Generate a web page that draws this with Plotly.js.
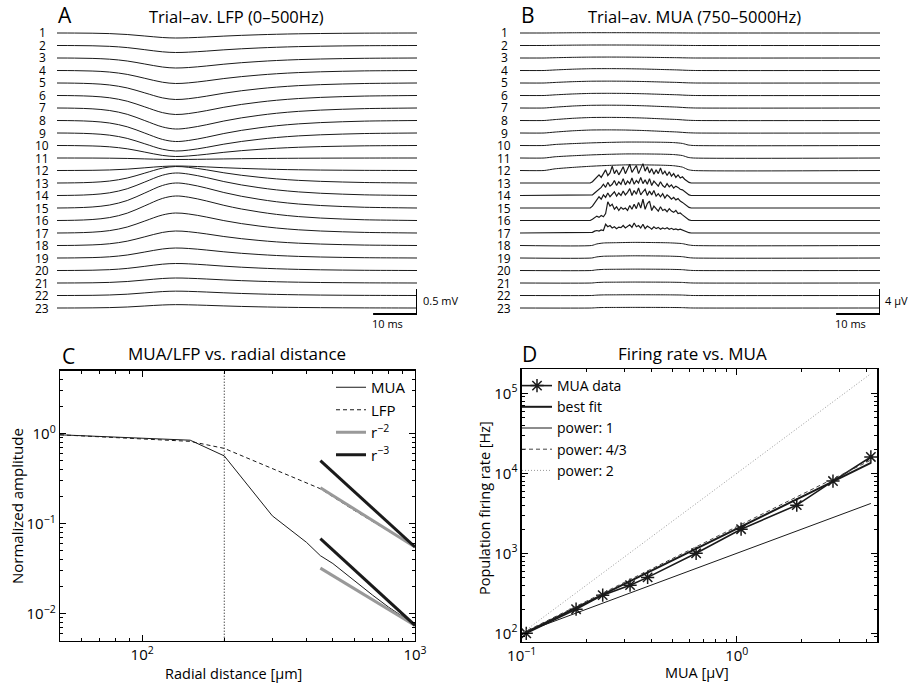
<!DOCTYPE html>
<html><head><meta charset="utf-8">
<script src="https://cdn.plot.ly/plotly-3.0.1.min.js"></script>
<style>html,body{margin:0;padding:0;background:#fff}#chart{width:908px;height:686px}</style>
</head><body><div id="chart"></div>
<script>
// ================= DATA =================
const channels = ['1','2','3','4','5','6','7','8','9','10','11','12','13','14','15','16','17','18','19','20','21','22','23'];

// Panel A: trial-averaged LFP waveform template (time in ms, normalized) and per-channel amplitude (mV)
const lfpT        = [0, 4, 8, 12, 16, 20, 24, 27, 30, 34, 38, 42, 46, 50, 55, 60, 65, 70, 75, 82];
const lfpTemplate = [0, 0.01, 0.04, 0.12, 0.3, 0.6, 0.9, 1.0, 0.95, 0.8, 0.62, 0.47, 0.35, 0.25, 0.16, 0.1, 0.06, 0.03, 0.015, 0];
const lfpAmp = [-0.10, -0.14, -0.20, -0.26, -0.33, -0.38, -0.42, -0.42, -0.36, -0.22, -0.03, 0.09, 0.33, 0.45, 0.50, 0.49, 0.40, 0.29, 0.20, 0.14, 0.10, 0.087, 0.067];

// Panel B: trial-averaged MUA (µV)
const muaEarlyT   = [0, 5.5, 8, 12, 16, 20, 24, 28, 32, 36, 38, 40, 82];
const muaEarly    = [0, 0, 0.3, 0.7, 0.95, 1.0, 0.95, 0.8, 0.55, 0.3, 0.1, 0, 0];
const muaPlateauT = [0, 5.5, 8, 12, 16, 20, 24, 28, 32, 35, 37, 38.3, 39.5, 82];
const muaPlateau  = [0, 0, 0.3, 0.55, 0.75, 0.9, 1.0, 1.0, 0.95, 0.85, 0.6, 0.15, 0, 0];
const muaLateT    = [0, 16.3, 17.5, 19, 22, 26, 30, 34, 37, 38.3, 39.5, 82];
const muaLate     = [0, 0, 0.5, 0.8, 0.9, 1.0, 0.95, 0.85, 0.6, 0.2, 0, 0];
const muaSmoothAmp   = {1:0.05, 2:0.08, 3:0.15, 4:0.3, 5:0.3, 6:0.35, 7:0.45, 8:0.5, 9:0.5, 10:0.55, 11:0.65, 12:0.9, 18:0.5, 19:0.35, 20:0.22, 21:0.15, 22:0.12, 23:0.1};
const muaSmoothShape = {1:'early',2:'early',3:'early',4:'early',5:'early',6:'early',7:'early',8:'early',9:'early',10:'plateau',11:'plateau',12:'plateau',18:'late',19:'late',20:'late',21:'late',22:'late',23:'late'};
// noisy channels, samples every 0.5 ms starting at 16 ms
const muaNoisyStart = 16, muaNoisyStep = 0.5;
const mua13 = [0,0.2,0.6,0.9,1.3,0.9,1.5,2.1,1.2,1.6,2.7,1.5,2.1,1.3,1.9,2.6,1.5,2.2,3.0,1.7,2.3,2.8,1.5,2.4,3.1,1.9,2.6,1.6,2.3,1.4,2.1,1.5,2.4,1.4,1.9,1.2,1.8,1.1,1.5,0.9,1.3,0.8,1.0,0.6,0.35,0.1,0];
const mua14 = [0,0.1,0.4,0.7,1.1,1.3,1.8,1.3,2.1,1.5,1.8,2.4,1.6,2.2,1.8,2.7,1.7,2.3,1.9,2.8,1.8,2.4,2.0,2.9,1.9,2.5,1.8,2.7,1.6,2.3,1.9,1.5,2.2,1.6,1.3,1.9,1.4,1.7,1.2,1.5,1.3,1.0,0.9,0.6,0.3,0.1,0];
const mua15 = [0,0.3,0.8,1.3,1.8,1.4,2.1,1.7,2.4,1.8,2.2,2.6,1.9,2.4,2.0,2.7,2.1,2.5,3.1,2.0,2.8,2.2,3.2,2.1,2.6,3.0,2.0,2.7,2.1,2.8,1.9,2.3,1.8,2.3,1.6,2.1,1.8,1.4,1.7,1.3,1.5,1.1,0.9,0.6,0.3,0.1,0];
const mua16 = [0,0.2,0.5,0.7,0.5,0.8,0.6,1.1,3.0,2.3,2.6,1.8,2.2,1.6,2.1,1.8,2.0,1.6,2.4,1.8,2.6,1.9,2.9,2.0,3.4,1.8,2.7,3.1,1.6,2.3,1.9,1.5,2.2,1.6,1.8,1.4,1.9,1.5,1.3,1.6,1.1,1.2,0.9,0.6,0.3,0.1,0];
const mua17 = [0,0.1,0.3,0.4,0.3,0.5,0.4,1.4,1.0,1.2,0.8,1.0,0.7,0.95,0.85,1.2,0.8,1.0,1.3,0.9,1.6,1.0,1.2,0.8,1.4,0.7,1.1,0.9,0.6,1.0,0.7,0.9,0.6,0.8,0.65,0.85,0.6,0.75,0.55,0.65,0.5,0.6,0.45,0.3,0.15,0.05,0];
const muaNoisy = {13:mua13, 14:mua14, 15:mua15, 16:mua16, 17:mua17};
const traceEndMs = 82;

// Panel C: amplitude vs radial distance
const cMuaX = [50, 150, 200, 300, 400, 450, 500, 600, 700, 800, 900, 1000];
const cMuaY = [0.97, 0.845, 0.565, 0.122, 0.062, 0.044, 0.036, 0.023, 0.016, 0.0118, 0.0093, 0.0075];
const cLfpX = [50, 150, 200, 300, 450, 600, 800, 1000];
const cLfpY = [0.97, 0.82, 0.685, 0.41, 0.244, 0.14, 0.083, 0.055];
const cR2aX = [450, 1000], cR2aY = [0.25, 0.055];
const cR3aX = [450, 1000], cR3aY = [0.50, 0.055];
const cR2bX = [450, 1000], cR2bY = [0.032, 0.0074];
const cR3bX = [450, 1000], cR3bY = [0.068, 0.0074];
const cBoundaryX = [200, 200], cBoundaryY = [0.005, 5];

// Panel D: firing rate vs MUA
const dMuaX = [0.105, 0.179, 0.238, 0.319, 0.385, 0.647, 1.047, 1.9, 2.8, 4.2];
const dMuaY = [100, 200, 300, 400, 500, 1000, 2000, 4000, 8000, 16000];
const dFitX = [0.1, 4.2],  dFitY = [97, 13500];
const dP1X  = [0.1, 4.2],  dP1Y  = [100, 4200];
const dP43X = [0.1, 4.2],  dP43Y = [100, 14600];
const dP2X  = [0.1, 4.2],  dP2Y  = [100, 176000];

// ================= LAYOUT HELPERS =================
const W = 908, H = 686;
const F = 'Open Sans, Noto Sans, sans-serif';
const px = v => v / W, py = v => 1 - v / H;
const lfpSpacing = 0.25;   // mV between channels
const muaSpacing = 2;      // µV between channels
const ink = '#1a1a1a';

const traces = [];
// Panel A
channels.forEach((c, i) => {
  traces.push({x: lfpT, y: lfpTemplate.map(v => -i * lfpSpacing + lfpAmp[i] * v),
    xaxis: 'x', yaxis: 'y', mode: 'lines', line: {color: ink, width: 1, shape: 'spline', smoothing: 1},
    showlegend: false, hoverinfo: 'skip'});
});
// Panel B
const tpl = {early: [muaEarlyT, muaEarly], plateau: [muaPlateauT, muaPlateau], late: [muaLateT, muaLate]};
channels.forEach((c, i) => {
  const ch = i + 1;
  let x, y, shape = 'linear', w = 1;
  if (muaNoisy[ch]) {
    const vals = muaNoisy[ch];
    x = [0].concat(vals.map((v, k) => muaNoisyStart + k * muaNoisyStep), [traceEndMs]);
    y = [0].concat(vals, [0]).map(v => -i * muaSpacing + v);
    w = 1.2;
  } else {
    const [tt, vv] = tpl[muaSmoothShape[ch]];
    x = tt; y = vv.map(v => -i * muaSpacing + muaSmoothAmp[ch] * v);
    shape = 'spline';
  }
  traces.push({x, y, xaxis: 'x2', yaxis: 'y2', mode: 'lines', line: {color: ink, width: w, shape, smoothing: 0.6},
    showlegend: false, hoverinfo: 'skip'});
});
// Panel C
traces.push({x: cBoundaryX, y: cBoundaryY, xaxis: 'x3', yaxis: 'y3', mode: 'lines', line: {color: '#000', width: 1, dash: '1px,2px'}, showlegend: false});
traces.push({x: cMuaX, y: cMuaY, xaxis: 'x3', yaxis: 'y3', mode: 'lines', name: 'MUA', line: {color: ink, width: 1}, legend: 'legend'});
traces.push({x: cLfpX, y: cLfpY, xaxis: 'x3', yaxis: 'y3', mode: 'lines', name: 'LFP', line: {color: ink, width: 1, dash: '4px,3px'}, legend: 'legend'});
traces.push({x: cR2aX, y: cR2aY, xaxis: 'x3', yaxis: 'y3', mode: 'lines', name: 'r<sup>−2</sup>', line: {color: '#999', width: 3}, legend: 'legend', legendgroup: 'r2'});
traces.push({x: cR3aX, y: cR3aY, xaxis: 'x3', yaxis: 'y3', mode: 'lines', name: 'r<sup>−3</sup>', line: {color: '#1a1a1a', width: 3}, legend: 'legend', legendgroup: 'r3'});
traces.push({x: cR2bX, y: cR2bY, xaxis: 'x3', yaxis: 'y3', mode: 'lines', line: {color: '#999', width: 3}, showlegend: false, legendgroup: 'r2'});
traces.push({x: cR3bX, y: cR3bY, xaxis: 'x3', yaxis: 'y3', mode: 'lines', line: {color: '#1a1a1a', width: 3}, showlegend: false, legendgroup: 'r3'});
// Panel D
traces.push({x: dMuaX, y: dMuaY, xaxis: 'x4', yaxis: 'y4', mode: 'lines+markers', name: 'MUA data', legend: 'legend2',
  line: {color: ink, width: 1.6}, marker: {symbol: 'asterisk-open', size: 11, line: {color: ink, width: 1.5}}});
traces.push({x: dFitX, y: dFitY, xaxis: 'x4', yaxis: 'y4', mode: 'lines', name: 'best fit', legend: 'legend2', line: {color: ink, width: 2}});
traces.push({x: dP1X, y: dP1Y, xaxis: 'x4', yaxis: 'y4', mode: 'lines', name: 'power: 1', legend: 'legend2', line: {color: ink, width: 1}});
traces.push({x: dP43X, y: dP43Y, xaxis: 'x4', yaxis: 'y4', mode: 'lines', name: 'power: 4/3', legend: 'legend2', line: {color: '#444', width: 1, dash: '4px,3px'}});
traces.push({x: dP2X, y: dP2Y, xaxis: 'x4', yaxis: 'y4', mode: 'lines', name: 'power: 2', legend: 'legend2', line: {color: '#999', width: 1, dash: '1px,2px'}});

// ---- axes ----
const minorVals = (lo, hi) => { const out = []; for (let e = lo; e <= hi; e++) for (let m = 2; m <= 9; m++) out.push(m * Math.pow(10, e)); return out; };
const logAx = (domain, range, tickvals, ticktext, minor) => ({
  type: 'log', domain, range, tickmode: 'array', tickvals, ticktext,
  showline: true, mirror: 'ticks', linecolor: '#000', linewidth: 1.3,
  ticks: 'inside', ticklen: 6, tickwidth: 1, tickcolor: '#000',
  minor: {tickmode: 'array', tickvals: minor, ticks: 'inside', ticklen: 3, tickcolor: '#000', tickwidth: 1},
  showgrid: false, zeroline: false, tickfont: {family: F, size: 15, color: '#000'}, fixedrange: true
});
const hid = (domain, range) => ({domain, range, visible: false, fixedrange: true});

const traceDomY = [py(320), py(20)];
const layout = {
  width: W, height: H, margin: {l: 0, r: 0, t: 0, b: 0},
  paper_bgcolor: '#fff', plot_bgcolor: 'rgba(0,0,0,0)',
  font: {family: F, color: '#000'},
  xaxis:  hid([px(57), px(417)], [0, traceEndMs]),
  yaxis:  hid(traceDomY, [-22 * lfpSpacing - 0.24, 0.26]),
  xaxis2: hid([px(520), px(880)], [0, traceEndMs]),
  yaxis2: hid(traceDomY, [-22 * muaSpacing - 1.92, 2.08]),
  xaxis3: Object.assign(logAx([px(60), px(415)], [Math.log10(50), 3], [100, 1000], ['10<sup>2</sup>', '10<sup>3</sup>'], minorVals(1, 2).filter(v => v > 50 && v < 1000)), {anchor: 'y3'}),
  yaxis3: Object.assign(logAx([py(640.7), py(370.7)], [Math.log10(0.005), Math.log10(5)], [0.01, 0.1, 1], ['10<sup>−2</sup>', '10<sup>−1</sup>', '10<sup>0</sup>'], minorVals(-3, 0).filter(v => v > 0.005 && v < 5)), {anchor: 'x3'}),
  xaxis4: Object.assign(logAx([px(521.7), px(877.3)], [-1, Math.log10(4.5)], [0.1, 1], ['10<sup>−1</sup>', '10<sup>0</sup>'], minorVals(-1, 0).filter(v => v < 4.5)), {anchor: 'y4'}),
  yaxis4: Object.assign(logAx([py(641.7), py(369.3)], [1.895, 5.3], [100, 1000, 10000, 100000], ['10<sup>2</sup>', '10<sup>3</sup>', '10<sup>4</sup>', '10<sup>5</sup>'], minorVals(1, 5).filter(v => v > 79 && v < 199000)), {anchor: 'x4'}),
  legend:  {x: px(331), y: py(371), xanchor: 'left', yanchor: 'top', bgcolor: 'rgba(0,0,0,0)', font: {family: F, size: 15}, tracegroupgap: 0, itemwidth: 30},
  legend2: {x: px(517), y: py(370), xanchor: 'left', yanchor: 'top', bgcolor: 'rgba(0,0,0,0)', font: {family: F, size: 14}, tracegroupgap: 0, itemwidth: 30},
  shapes: [], annotations: []
};

// scale bars (A: 10 ms / 0.5 mV, B: 10 ms / 4 µV)
const scaleMs = 10, scaleMv = 0.5, scaleUv = 4;
const barA = -22 * lfpSpacing - 0.12, barB = -22 * muaSpacing - 0.96;
const bar = (xr, yr, x0, x1, y0, y1) => ({type: 'line', xref: xr, yref: yr, x0, x1, y0, y1, line: {color: '#000', width: 2}});
layout.shapes.push(bar('x', 'y', traceEndMs, traceEndMs, barA, barA + scaleMv));
layout.shapes.push(bar('x', 'y', traceEndMs - scaleMs, traceEndMs, barA, barA));
layout.shapes.push(bar('x2', 'y2', traceEndMs, traceEndMs, barB, barB + scaleUv));
layout.shapes.push(bar('x2', 'y2', traceEndMs - scaleMs, traceEndMs, barB, barB));

const ann = (text, x, y, o = {}) => Object.assign({text, x: px(x), y: py(y), xref: 'paper', yref: 'paper', showarrow: false,
  xanchor: 'center', yanchor: 'middle', font: {family: F, size: 15, color: '#000'}}, o);
const A = layout.annotations;
// channel labels
channels.forEach((c, i) => {
  A.push({text: c, xref: 'paper', yref: 'y', x: px(42), y: -i * lfpSpacing, showarrow: false, xanchor: 'center', yanchor: 'middle', height: 11, font: {family: F, size: 12, color: '#000'}});
  A.push({text: c, xref: 'paper', yref: 'y2', x: px(504), y: -i * muaSpacing, showarrow: false, xanchor: 'center', yanchor: 'middle', height: 11, font: {family: F, size: 12, color: '#000'}});
});
A.push(ann(scaleMv + ' mV', 421, 301, {xanchor: 'left', font: {family: F, size: 11}}));
A.push(ann(scaleMs + ' ms', 387, 323, {font: {family: F, size: 11}}));
A.push(ann(scaleUv + ' µV', 883, 301, {xanchor: 'left', font: {family: F, size: 11}}));
A.push(ann(scaleMs + ' ms', 850, 323, {font: {family: F, size: 11}}));
// panel letters & titles
A.push(ann('A', 56, 15, {xanchor: 'left', font: {family: F, size: 21}}));
A.push(ann('B', 519, 15, {xanchor: 'left', font: {family: F, size: 21}}));
A.push(ann('C', 60, 356, {xanchor: 'left', font: {family: F, size: 21}}));
A.push(ann('D', 520, 354, {xanchor: 'left', font: {family: F, size: 21}}));
A.push(ann('Trial–av. LFP (0–500Hz)', 236, 17, {font: {family: F, size: 16.5}}));
A.push(ann('Trial–av. MUA (750–5000Hz)', 694, 17, {font: {family: F, size: 16.5}}));
A.push(ann('MUA/LFP vs. radial distance', 237, 353, {font: {family: F, size: 17}}));
A.push(ann('Firing rate vs. MUA', 692, 353, {font: {family: F, size: 17}}));
// axis titles
A.push(ann('Radial distance [µm]', 233, 673, {font: {family: F, size: 14.5}}));
A.push(ann('Normalized amplitude', 17, 506, {textangle: -90, font: {family: F, size: 15}}));
A.push(ann('MUA [µV]', 697, 672, {font: {family: F, size: 14.5}}));
A.push(ann('Population firing rate [Hz]', 484, 508, {textangle: -90, font: {family: F, size: 14.5}}));

Plotly.newPlot('chart', traces, layout, {staticPlot: true, displayModeBar: false});
</script>
</body></html>
